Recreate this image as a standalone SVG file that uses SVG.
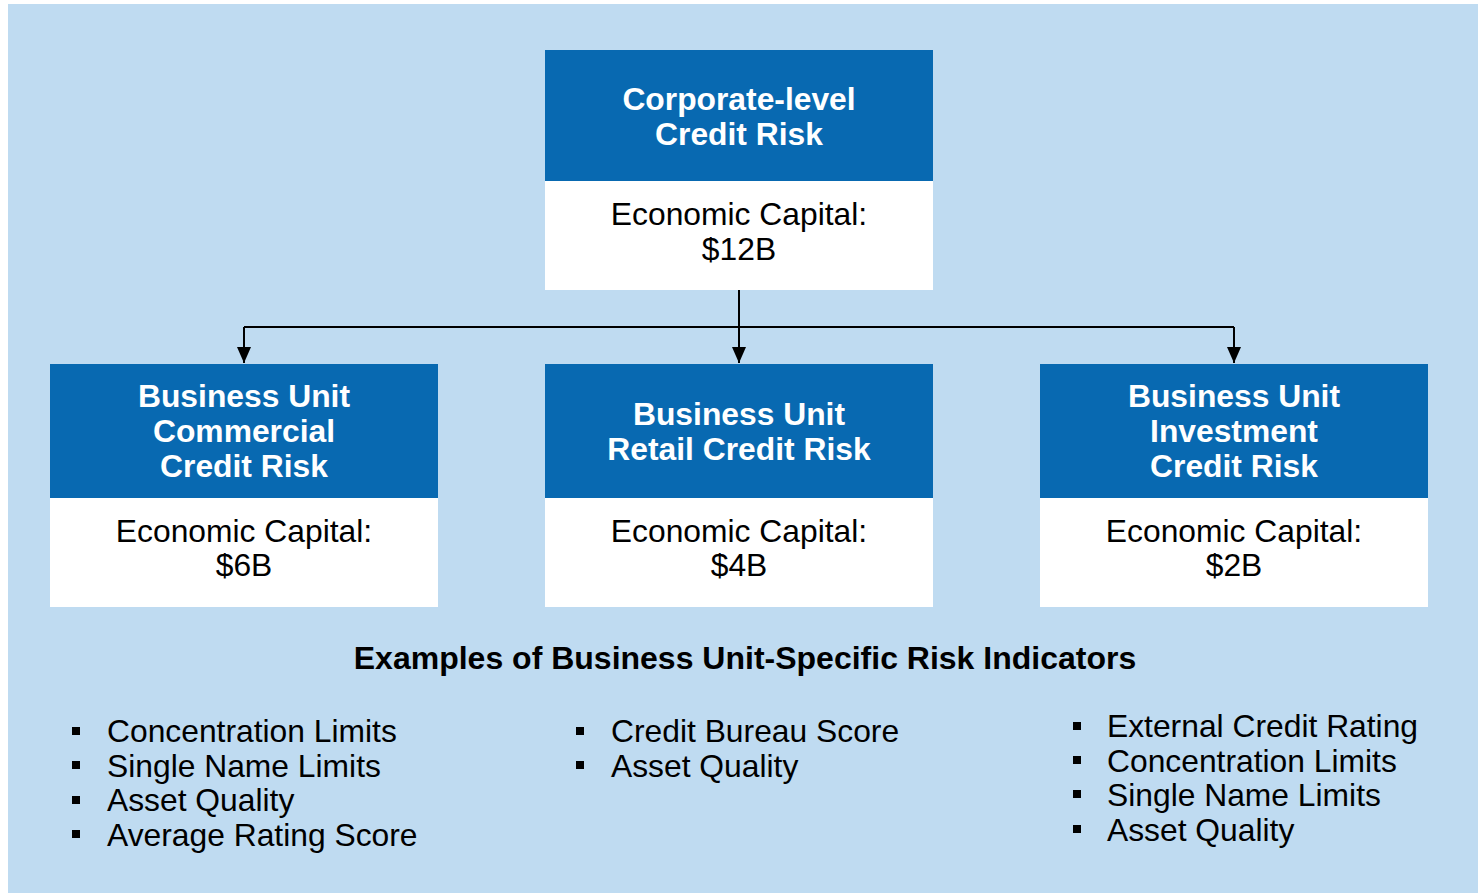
<svg xmlns="http://www.w3.org/2000/svg" width="1478" height="893" viewBox="0 0 1478 893">
<style>
.hdr{fill:#0869B1}
.body{fill:#FFFFFF}
.ht{font-family:"Liberation Sans",Arial,sans-serif;font-weight:bold;font-size:31.8px;fill:#FFFFFF;text-anchor:middle}
.bt{font-family:"Liberation Sans",Arial,sans-serif;font-size:31.8px;fill:#000000;text-anchor:middle}
.title{font-family:"Liberation Sans",Arial,sans-serif;font-weight:bold;font-size:32px;fill:#000000;text-anchor:middle}
.li{font-family:"Liberation Sans",Arial,sans-serif;font-size:31.8px;fill:#000000}
.blt{fill:#000000}
.conn{fill:none;stroke:#000000;stroke-width:2}
</style>
<defs>
<marker id="arr" viewBox="0 0 16 14" refX="16" refY="7" markerWidth="16" markerHeight="14" markerUnits="userSpaceOnUse" orient="auto">
<path d="M0,0 L16,7 L0,14 Z" fill="#000000"/>
</marker>
</defs>
<rect x="0" y="0" width="1478" height="893" fill="#FFFFFF"/>
<rect x="8" y="4" width="1470" height="889" fill="#BFDBF1"/>
<g id="connectors">
<path class="conn" d="M739,290 V363" marker-end="url(#arr)"/>
<path class="conn" d="M244,327 H1234"/>
<path class="conn" d="M244,327 V363" marker-end="url(#arr)"/>
<path class="conn" d="M1234,327 V363" marker-end="url(#arr)"/>
</g>
<g id="corporate">
<rect class="hdr" x="545" y="50" width="388" height="131"/>
<rect class="body" x="545" y="181" width="388" height="109"/>
<text class="ht" x="739" y="110">Corporate-level</text>
<text class="ht" x="739" y="145">Credit Risk</text>
<text class="bt" x="739" y="225">Economic Capital:</text>
<text class="bt" x="739" y="260">$12B</text>
</g>
<g id="commercial">
<rect class="hdr" x="50" y="364" width="388" height="134"/>
<rect class="body" x="50" y="498" width="388" height="109"/>
<text class="ht" x="244" y="407">Business Unit</text>
<text class="ht" x="244" y="442">Commercial</text>
<text class="ht" x="244" y="477">Credit Risk</text>
<text class="bt" x="244" y="542">Economic Capital:</text>
<text class="bt" x="244" y="576">$6B</text>
</g>
<g id="retail">
<rect class="hdr" x="545" y="364" width="388" height="134"/>
<rect class="body" x="545" y="498" width="388" height="109"/>
<text class="ht" x="739" y="425">Business Unit</text>
<text class="ht" x="739" y="460">Retail Credit Risk</text>
<text class="bt" x="739" y="542">Economic Capital:</text>
<text class="bt" x="739" y="576">$4B</text>
</g>
<g id="investment">
<rect class="hdr" x="1040" y="364" width="388" height="134"/>
<rect class="body" x="1040" y="498" width="388" height="109"/>
<text class="ht" x="1234" y="407">Business Unit</text>
<text class="ht" x="1234" y="442">Investment</text>
<text class="ht" x="1234" y="477">Credit Risk</text>
<text class="bt" x="1234" y="542">Economic Capital:</text>
<text class="bt" x="1234" y="576">$2B</text>
</g>
<g id="indicators-title">
<text class="title" x="745" y="669">Examples of Business Unit-Specific Risk Indicators</text>
</g>
<g id="commercial-indicators">
<rect class="blt" x="72" y="727" width="8" height="8"/>
<rect class="blt" x="72" y="761" width="8" height="8"/>
<rect class="blt" x="72" y="796" width="8" height="8"/>
<rect class="blt" x="72" y="830" width="8" height="8"/>
<text class="li" x="107" y="742">Concentration Limits</text>
<text class="li" x="107" y="777">Single Name Limits</text>
<text class="li" x="107" y="811">Asset Quality</text>
<text class="li" x="107" y="846">Average Rating Score</text>
</g>
<g id="retail-indicators">
<rect class="blt" x="576" y="727" width="8" height="8"/>
<rect class="blt" x="576" y="761" width="8" height="8"/>
<text class="li" x="611" y="742">Credit Bureau Score</text>
<text class="li" x="611" y="777">Asset Quality</text>
</g>
<g id="investment-indicators">
<rect class="blt" x="1073" y="722" width="8" height="8"/>
<rect class="blt" x="1073" y="756" width="8" height="8"/>
<rect class="blt" x="1073" y="790" width="8" height="8"/>
<rect class="blt" x="1073" y="825" width="8" height="8"/>
<text class="li" x="1107" y="737">External Credit Rating</text>
<text class="li" x="1107" y="772">Concentration Limits</text>
<text class="li" x="1107" y="806">Single Name Limits</text>
<text class="li" x="1107" y="841">Asset Quality</text>
</g>
</svg>
